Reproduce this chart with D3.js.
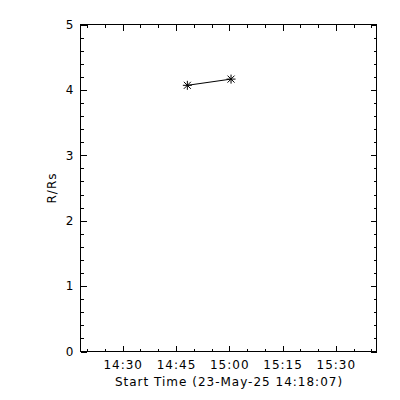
<!DOCTYPE html>
<html>
<head>
<meta charset="utf-8">
<script src="https://cdn.jsdelivr.net/npm/d3@7"></script>
<style>
  html, body { margin: 0; padding: 0; background: #fff; }
  svg { display: block; }
  text { font-family: "DejaVu Sans", sans-serif; fill: #000; letter-spacing: 1px; }
</style>
</head>
<body>
<svg id="chart" width="400" height="400"></svg>
<script>
// ---- data ----
const startTime = "2025-05-23T14:18:07";
const rangeSeconds = 5000;
const times = ["2025-05-23T14:48:12", "2025-05-23T15:00:30"];
const radii = [4.07, 4.165];
const yTicks = [0, 1, 2, 3, 4, 5];
const xTickLabels = ["14:30", "14:45", "15:00", "15:15", "15:30"];
const yLabel = "R/Rs";
const xLabel = "Start Time (23-May-25 14:18:07)";

// ---- layout ----
const margin = {left: 80, top: 24};
const W = 296, H = 327;
const svg = d3.select("#chart");
const g = svg.append("g").attr("transform", `translate(${margin.left + 0.5},${margin.top + 0.5})`);

const t0 = new Date(startTime);
const t1 = new Date(t0.getTime() + rangeSeconds * 1000);
const x = d3.scaleTime().domain([t0, t1]).range([0, W]);
const y = d3.scaleLinear().domain([0, 5]).range([H, 0]);

const parseHM = s => { const [h, m] = s.split(":").map(Number); const d = new Date(t0); d.setHours(h, m, 0, 0); return d; };
const majorX = xTickLabels.map(parseHM);
const minorX = d3.timeMinute.every(5).range(t0, t1).filter(d => !majorX.some(m => +m === +d));
const minorY = d3.range(0, 5.0001, 0.2).map(v => +v.toFixed(1)).filter(v => !yTicks.includes(v));

function styleAxis(sel) {
  sel.select(".domain").remove();
  sel.selectAll("line").attr("stroke", "#000").attr("shape-rendering", "crispEdges");
  sel.selectAll("text").style("font-family", '"DejaVu Sans", sans-serif').style("font-size", "12px").attr("fill", "#000");
}

// bottom axis
g.append("g").attr("transform", `translate(0,${H})`)
  .call(d3.axisBottom(x).tickValues(majorX).tickFormat((d, i) => xTickLabels[i]).tickSizeInner(-6).tickSizeOuter(0).tickPadding(9))
  .call(styleAxis);
g.append("g").attr("transform", `translate(0,${H})`)
  .call(d3.axisBottom(x).tickValues(minorX).tickFormat("").tickSizeInner(-3).tickSizeOuter(0))
  .call(styleAxis);
// top axis
g.append("g")
  .call(d3.axisTop(x).tickValues(majorX).tickFormat("").tickSizeInner(-6).tickSizeOuter(0))
  .call(styleAxis);
g.append("g")
  .call(d3.axisTop(x).tickValues(minorX).tickFormat("").tickSizeInner(-3).tickSizeOuter(0))
  .call(styleAxis);
// left axis
g.append("g")
  .call(d3.axisLeft(y).tickValues(yTicks).tickFormat(d3.format("d")).tickSizeInner(-6).tickSizeOuter(0).tickPadding(6))
  .call(styleAxis);
g.append("g")
  .call(d3.axisLeft(y).tickValues(minorY).tickFormat("").tickSizeInner(-3).tickSizeOuter(0))
  .call(styleAxis);
// right axis
g.append("g").attr("transform", `translate(${W},0)`)
  .call(d3.axisRight(y).tickValues(yTicks).tickFormat("").tickSizeInner(-6).tickSizeOuter(0))
  .call(styleAxis);
g.append("g").attr("transform", `translate(${W},0)`)
  .call(d3.axisRight(y).tickValues(minorY).tickFormat("").tickSizeInner(-3).tickSizeOuter(0))
  .call(styleAxis);

// frame
g.append("rect").attr("x", 0).attr("y", 0).attr("width", W).attr("height", H)
  .attr("fill", "none").attr("stroke", "#000").attr("shape-rendering", "crispEdges");

// data
const pts = times.map((t, i) => ({t: new Date(t), r: radii[i]}));
g.append("path").datum(pts)
  .attr("d", d3.line().x(d => x(d.t)).y(d => y(d.r)))
  .attr("fill", "none").attr("stroke", "#000").attr("stroke-width", 1);

const s = 4.5, sd = 3.5;
const star = `M${-s},0L${s},0M0,${-s}L0,${s}M${-sd},${-sd}L${sd},${sd}M${-sd},${sd}L${sd},${-sd}`;
g.selectAll(".star").data(pts).join("path").attr("class", "star")
  .attr("transform", d => `translate(${x(d.t)},${y(d.r)})`)
  .attr("d", star).attr("stroke", "#000").attr("fill", "none").attr("stroke-width", 1);

// labels
svg.append("text").attr("transform", `translate(56,188) rotate(-90)`)
  .attr("text-anchor", "middle").style("font-size", "12px").text(yLabel);
svg.append("text").attr("x", 229).attr("y", 386)
  .attr("text-anchor", "middle").style("font-size", "12px").text(xLabel);
</script>
</body>
</html>
